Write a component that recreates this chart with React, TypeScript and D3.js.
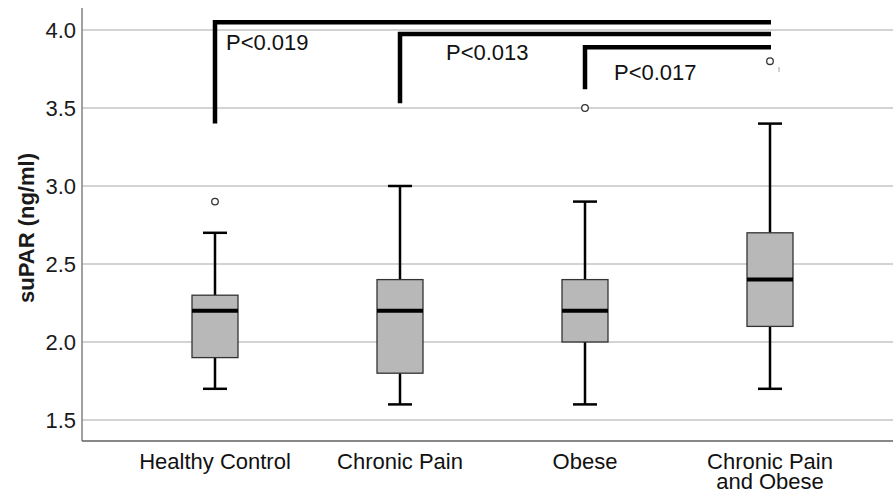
import React, { useEffect, useRef } from 'react';
import * as d3 from 'd3';

// group labels (second line for the last one)
const categories = ['Healthy Control', 'Chronic Pain', 'Obese', 'Chronic Pain and Obese'];
const labelLines = [['Healthy Control'], ['Chronic Pain'], ['Obese'], ['Chronic Pain', 'and Obese']];

// box statistics
const mins = [1.7, 1.6, 1.6, 1.7];
const q1s = [1.9, 1.8, 2.0, 2.1];
const medians = [2.2, 2.2, 2.2, 2.4];
const q3s = [2.3, 2.4, 2.4, 2.7];
const maxs = [2.7, 3.0, 2.9, 3.4];
const outliers = [[2.9], [], [3.5], [3.8]];

const yTicks = [1.5, 2.0, 2.5, 3.0, 3.5, 4.0];

// significance brackets: from group -> to group, bottom value, top value
const bracketFrom = [0, 1, 2];
const bracketTo = [3, 3, 3];
const bracketLow = [3.4, 3.53, 3.62];
const bracketHigh = [4.05, 3.975, 3.89];
const bracketText = ['P<0.019', 'P<0.013', 'P<0.017'];
const bracketTextY = [3.87, 3.81, 3.68];
const bracketTextDx = [11, 46, 29];

function App() {
  const svgRef = useRef<SVGSVGElement>(null);

  useEffect(() => {
    const svg = d3.select(svgRef.current);
    const width = 893;
    const left = 82;
    const bottom = 441;
    const font = 'Liberation Sans, Arial, sans-serif';

    const x = d3.scalePoint<string>().domain(categories).range([215, 770]);
    const y = d3.scaleLinear().domain([1.5, 4.0]).range([420, 30]);
    const boxW = 46;
    const capW = 24;

    // grid lines
    svg.append('g')
      .selectAll('line')
      .data(yTicks)
      .enter()
      .append('line')
      .attr('x1', left)
      .attr('x2', width)
      .attr('y1', (d) => y(d))
      .attr('y2', (d) => y(d))
      .attr('stroke', '#c4c4c4')
      .attr('stroke-width', 1.5);

    // axes
    const yAxis = d3.axisLeft(y).tickValues(yTicks).tickFormat(d3.format('.1f')).tickSize(0).tickPadding(6);
    const gy = svg.append('g').attr('transform', `translate(${left},0)`).call(yAxis);
    gy.select('.domain').remove();
    gy.selectAll('text')
      .attr('font-family', font)
      .attr('font-size', 22)
      .attr('fill', '#1a1a1a');

    svg.append('line')
      .attr('x1', left).attr('x2', left)
      .attr('y1', 8).attr('y2', bottom)
      .attr('stroke', '#808080').attr('stroke-width', 1.5);
    svg.append('line')
      .attr('x1', left).attr('x2', width)
      .attr('y1', bottom).attr('y2', bottom)
      .attr('stroke', '#606060').attr('stroke-width', 1.5);

    svg.append('text')
      .attr('transform', `translate(34,228) rotate(-90)`)
      .attr('text-anchor', 'middle')
      .attr('font-family', font)
      .attr('font-weight', 'bold')
      .attr('font-size', 22)
      .attr('fill', '#1a1a1a')
      .text('suPAR (ng/ml)');

    // x labels
    categories.forEach((c, i) => {
      const t = svg.append('text')
        .attr('x', x(c))
        .attr('y', 469)
        .attr('text-anchor', 'middle')
        .attr('font-family', font)
        .attr('font-size', 22)
        .attr('fill', '#111');
      labelLines[i].forEach((l, j) => {
        t.append('tspan').attr('x', x(c)).attr('dy', j === 0 ? 0 : 20).text(l);
      });
    });

    // boxes
    const g = svg.append('g');
    categories.forEach((c, i) => {
      const cx = x(c) as number;
      g.append('line')
        .attr('x1', cx).attr('x2', cx)
        .attr('y1', y(maxs[i])).attr('y2', y(q3s[i]))
        .attr('stroke', '#000').attr('stroke-width', 2.5);
      g.append('line')
        .attr('x1', cx).attr('x2', cx)
        .attr('y1', y(q1s[i])).attr('y2', y(mins[i]))
        .attr('stroke', '#000').attr('stroke-width', 2.5);
      [maxs[i], mins[i]].forEach((v) => {
        g.append('line')
          .attr('x1', cx - capW / 2).attr('x2', cx + capW / 2)
          .attr('y1', y(v)).attr('y2', y(v))
          .attr('stroke', '#000').attr('stroke-width', 2.5);
      });
      g.append('rect')
        .attr('x', cx - boxW / 2)
        .attr('y', y(q3s[i]))
        .attr('width', boxW)
        .attr('height', y(q1s[i]) - y(q3s[i]))
        .attr('fill', '#b8b8b8')
        .attr('stroke', '#333')
        .attr('stroke-width', 1.3);
      g.append('line')
        .attr('x1', cx - boxW / 2).attr('x2', cx + boxW / 2)
        .attr('y1', y(medians[i])).attr('y2', y(medians[i]))
        .attr('stroke', '#000').attr('stroke-width', 4);
      outliers[i].forEach((v) => {
        g.append('circle')
          .attr('cx', cx).attr('cy', y(v)).attr('r', 3.3)
          .attr('fill', '#fff').attr('stroke', '#333').attr('stroke-width', 1.3);
      });
    });

    // tiny case label next to last outlier
    svg.append('text')
      .attr('x', (x(categories[3]) as number) + 8)
      .attr('y', y(3.8) + 11)
      .attr('font-family', font)
      .attr('font-size', 7)
      .attr('fill', '#777')
      .text('I');

    // brackets
    bracketFrom.forEach((f, i) => {
      const x0 = x(categories[f]) as number;
      const x1 = x(categories[bracketTo[i]]) as number;
      svg.append('path')
        .attr('d', d3.line()([[x0, y(bracketLow[i])], [x0, y(bracketHigh[i])], [x1 + 1, y(bracketHigh[i])]]))
        .attr('fill', 'none')
        .attr('stroke', '#000')
        .attr('stroke-width', 4.5)
        .attr('stroke-linejoin', 'miter');
      svg.append('text')
        .attr('x', x0 + bracketTextDx[i])
        .attr('y', y(bracketTextY[i]))
        .attr('font-family', font)
        .attr('font-size', 22)
        .attr('fill', '#111')
        .text(bracketText[i]);
    });

    return () => { svg.selectAll('*').remove(); };
  }, []);

  return (
    <svg ref={svgRef} width={893} height={495} style={{ position: 'absolute', left: 0, top: 0, background: '#fff' }}></svg>
  );
}

export default App;
